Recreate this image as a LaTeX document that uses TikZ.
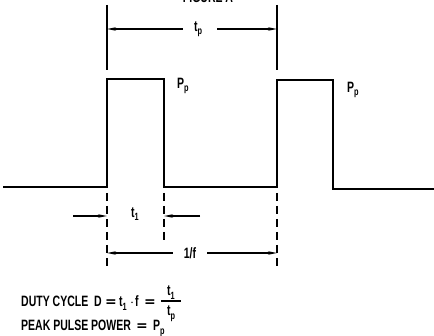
\documentclass[tikz,border=0pt]{standalone}
\usepackage{fontspec}
\setmainfont[FakeStretch=0.7]{Liberation Sans}
\newfontfamily\eqfont{DejaVu Sans}
\usetikzlibrary{arrows.meta}
\newcommand\mysb[1]{\raisebox{-0.45ex}{\fontsize{10.5}{10.5}\selectfont\bfseries #1}}
\newcommand\myeq{{\eqfont\fontsize{14}{14}\selectfont\bfseries =}}
\tikzset{
  pulse/.style={line width=1.6pt, line join=miter},
  ext/.style={line width=1.1pt},
  dashext/.style={line width=1.1pt, dash pattern=on 8pt off 5pt},
  dim/.style={line width=1.1pt, -{Stealth[length=9pt,width=3.5pt]}},
  lbl/.style={font=\fontsize{15}{17}\selectfont\bfseries, inner sep=1pt},
  tx/.style={lbl, anchor=base west, inner sep=0pt},
}
\begin{document}
\begin{tikzpicture}[x=1pt,y=-1pt]
\useasboundingbox (0,0) rectangle (434,336);
% title (cut off at top, as in the reference)
\node[lbl, anchor=base] (title) at (208,2.5) {FIGURE A};
% pulse train
\coordinate (s0) at (3,187);
\coordinate (r1b) at (107,187);
\coordinate (r1t) at (107,79);
\coordinate (f1t) at (164,79);
\coordinate (f1b) at (164,187);
\coordinate (r2b) at (277,187);
\coordinate (r2t) at (277,80);
\coordinate (f2t) at (333,80);
\coordinate (f2b) at (333,189);
\coordinate (e0) at (434,189);
\draw[pulse] (s0) -- (r1b) -- (r1t) -- (f1t) -- (f1b) -- (r2b) -- (r2t) -- (f2t) -- (f2b) -- (e0);
% top extension lines and t_p
\coordinate (x1a) at (107,5); \coordinate (x1b) at (107,70);
\coordinate (x2a) at (277,5); \coordinate (x2b) at (277,70);
\draw[ext] (x1a) -- (x1b);
\draw[ext] (x2a) -- (x2b);
\node[lbl] (tp) at (198,29) {t\mysb{p}};
\coordinate (tpl) at (107,29); \coordinate (tpr) at (277,29);
\draw[dim] (tp.west) ++(-10,0) -- (tpl);
\draw[dim] (tp.east) ++(14,0) -- (tpr);
% peak labels
\node[lbl, anchor=west] (pp1) at (176,86) {P\mysb{p}};
\node[lbl, anchor=west] (pp2) at (346,90) {P\mysb{p}};
% dashed extension lines
\coordinate (d1a) at (107,193); \coordinate (d1b) at (107,266);
\coordinate (d2a) at (164,193); \coordinate (d2b) at (164,242);
\coordinate (d3a) at (277,193); \coordinate (d3b) at (277,266);
\draw[dashext] (d1a) -- (d1b);
\draw[dashext] (d2a) -- (d2b);
\draw[dashext] (d3a) -- (d3b);
% t1
\node[lbl] (t1) at (135,214) {t\mysb{1}};
\coordinate (t1la) at (73,216); \coordinate (t1lb) at (107,216);
\coordinate (t1ra) at (200,216); \coordinate (t1rb) at (164,216);
\draw[dim] (t1la) -- (t1lb);
\draw[dim] (t1ra) -- (t1rb);
% 1/f
\node[lbl] (per) at (190,253) {1/f};
\coordinate (pl) at (107,253); \coordinate (pr) at (277,253);
\draw[dim] (per.west) ++(-10,0) -- (pl);
\draw[dim] (per.east) ++(10,0) -- (pr);
% duty cycle formula
\node[tx] (duty) at (21,307) {DUTY CYCLE};
\node[tx] (dD) at (94,307) {D};
\node[tx] (dq1) at (105,307) {\myeq};
\node[tx] (dt1) at (119,307) {t\mysb{1}};
\node[tx] (ddot) at (130,307) {$\cdot$};
\node[tx] (df) at (135,307) {f};
\node[tx] (dq2) at (144,307) {\myeq};
\node[tx, anchor=base] (fnum) at (171,296) {t\mysb{1}};
\node[tx, anchor=base] (fden) at (171,316) {t\mysb{p}};
\coordinate (barl) at (161,301); \coordinate (barr) at (181,301);
\draw[line width=1.3pt] (barl) -- (barr);
% peak pulse power
\node[tx] (peak) at (21,331) {PEAK PULSE POWER};
\node[tx] (pq) at (136,331) {\myeq};
\node[tx] (pP) at (153,331) {P\mysb{p}};
\end{tikzpicture}
\end{document}
